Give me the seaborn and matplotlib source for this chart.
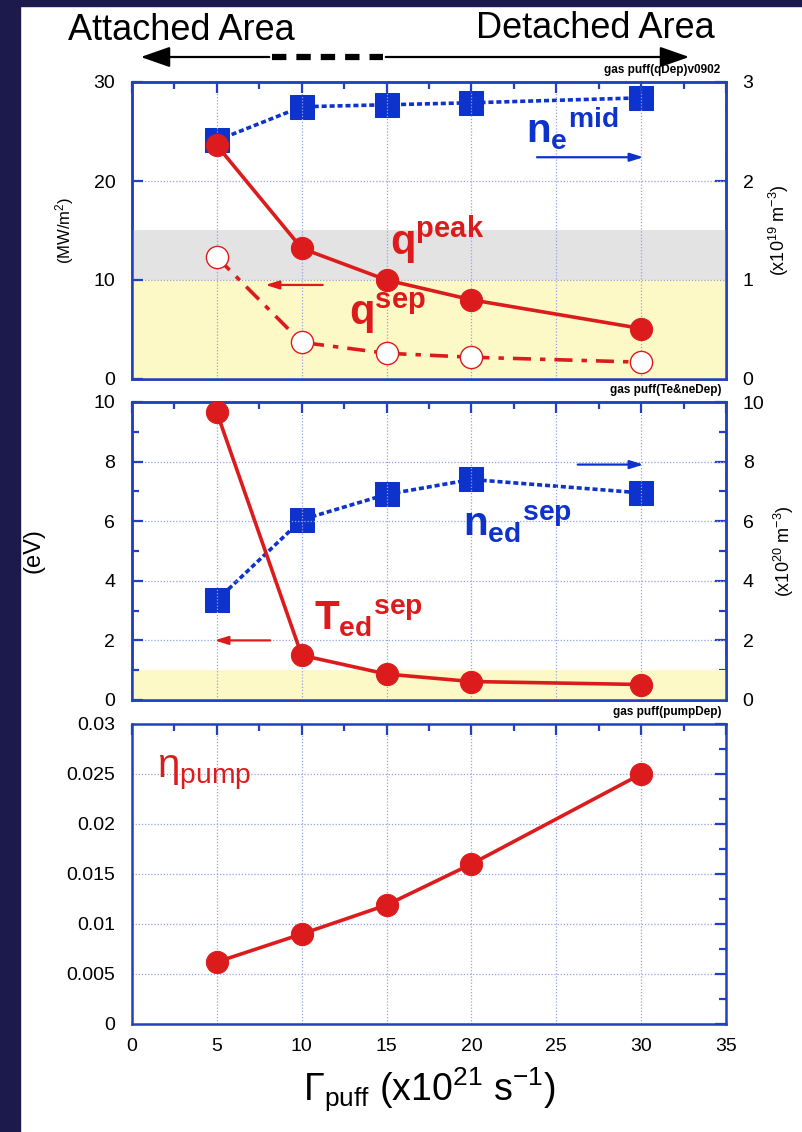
"""
Divertor gas puff scan: heat flux, separatrix conditions and pumping efficiency.
"""
import numpy as np
import matplotlib
matplotlib.use("Agg")
import matplotlib.pyplot as plt
import seaborn as sns
from matplotlib.patches import Rectangle, FancyArrowPatch
from matplotlib.lines import Line2D
from matplotlib.ticker import MultipleLocator

# data
gas_puff = [5, 10, 15, 20, 30]
q_peak = [23.6, 13.2, 10.0, 8.0, 5.1]
q_sep = [12.3, 3.7, 2.6, 2.2, 1.7]
ne_mid = [2.41, 2.75, 2.77, 2.79, 2.84]
te_sep = [9.65, 1.5, 0.87, 0.62, 0.52]
ned_sep = [3.35, 6.05, 6.9, 7.4, 6.95]
eta_pump = [0.0062, 0.009, 0.0119, 0.016, 0.025]
eta_ticks = [0, 0.005, 0.01, 0.015, 0.02, 0.025, 0.03]
eta_labels = ["0", "0.005", "0.01", "0.015", "0.02", "0.025", "0.03"]

RED = "#dc1c1c"
BLUE = "#0d33cc"
AXBLUE = "#2340c0"
NAVY = "#1c1a4c"
YELLOW = "#fdf9c6"
GRAY = "#e3e3e3"

sns.set_style("white")
plt.rcParams["font.family"] = ["Liberation Sans", "DejaVu Sans"]
plt.rcParams["text.color"] = "black"
plt.rcParams["axes.labelcolor"] = "black"
plt.rcParams["mathtext.fontset"] = "custom"
plt.rcParams["mathtext.rm"] = "Liberation Sans"
plt.rcParams["mathtext.bf"] = "Liberation Sans:bold"
plt.rcParams["mathtext.it"] = "Liberation Sans:italic"
plt.rcParams["mathtext.sf"] = "Liberation Sans"

W, H = 803, 1132
fig = plt.figure(figsize=(W / 100, H / 100), dpi=100)
fig.patch.set_facecolor("white")

# navy frame strips
fig.patches.append(Rectangle((0, 0), 20 / W, 1, transform=fig.transFigure,
                             color=NAVY, zorder=-5))
fig.patches.append(Rectangle((0, 1 - 6 / H), 1, 6 / H, transform=fig.transFigure,
                             color=NAVY, zorder=-5))


def px_axes(left, top, right, bottom):
    return fig.add_axes([left / W, 1 - bottom / H, (right - left) / W, (bottom - top) / H])


def blue_frame(ax):
    for sp in ax.spines.values():
        sp.set_color(AXBLUE)
        sp.set_linewidth(1.8)


def style_axis(ax, ymax, ymajor, yminor, right_ticks=True):
    ax.set_xlim(0, 35)
    ax.set_ylim(0, ymax)
    ax.xaxis.set_major_locator(MultipleLocator(5))
    ax.xaxis.set_minor_locator(MultipleLocator(2.5))
    ax.yaxis.set_major_locator(MultipleLocator(ymajor))
    if yminor:
        ax.yaxis.set_minor_locator(MultipleLocator(yminor))
    ax.tick_params(which="both", direction="in", colors=AXBLUE, labelcolor="black",
                   top=True, right=right_ticks, width=1.6, labelsize=14)
    ax.tick_params(which="major", length=8)
    ax.tick_params(which="minor", length=5)
    ax.tick_params(axis="y", pad=12)
    ax.tick_params(axis="x", pad=10)
    blue_frame(ax)
    ax.grid(True, which="major", color="#97a2e6", linestyle=(0, (1, 1.5)), linewidth=0.9)
    ax.set_xlabel("")
    ax.set_ylabel("")


def style_twin(tw, ymax, ymajor, yminor, label, xpos):
    tw.set_ylim(0, ymax)
    tw.yaxis.set_major_locator(MultipleLocator(ymajor))
    if yminor:
        tw.yaxis.set_minor_locator(MultipleLocator(yminor))
    tw.tick_params(which="both", direction="in", colors=AXBLUE, labelcolor="black",
                   width=1.6, labelsize=14, pad=12)
    tw.tick_params(which="major", length=8)
    tw.tick_params(which="minor", length=5)
    tw.set_ylabel(label, fontsize=13)
    tw.yaxis.set_label_coords(xpos, 0.5)
    blue_frame(tw)


ax1 = px_axes(132, 82, 726, 379)
ax2 = px_axes(132, 402, 726, 700)
ax3 = px_axes(132, 724, 726, 1024)

arrow_style = "-|>,head_length=0.8,head_width=0.25"

# ---------- panel 1 ----------
ax1.axhspan(10, 15, color=GRAY, zorder=0, lw=0)
ax1.axhspan(0, 10, color=YELLOW, zorder=0, lw=0)
sns.lineplot(x=gas_puff, y=q_peak, ax=ax1, color=RED, lw=2.6, marker="o",
             markersize=16, markerfacecolor=RED, markeredgecolor=RED, zorder=5)
sns.lineplot(x=gas_puff, y=q_sep, ax=ax1, color=RED, lw=2.6, linestyle=(0, (5, 2.5, 1.5, 2.5)),
             marker="o", markersize=16, markerfacecolor="white", markeredgecolor=RED,
             markeredgewidth=1.0, zorder=5)
style_axis(ax1, 30, 10, None, right_ticks=False)
ax1.tick_params(labelbottom=False)
ax1.set_ylabel("(MW/m$^2$)", fontsize=12)
ax1.yaxis.set_label_coords(-0.094, 0.5)

t1 = ax1.twinx()
sns.lineplot(x=gas_puff, y=ne_mid, ax=t1, color=BLUE, lw=2.6, linestyle=(0, (1.4, 0.8)),
             marker="s", markersize=17, markerfacecolor=BLUE, markeredgecolor=BLUE, zorder=3)
style_twin(t1, 3, 1, None, "(x10$^{19}$ m$^{-3}$)", 1.069)
ax1.set_zorder(t1.get_zorder() + 1)
ax1.patch.set_visible(False)

ax1.text(15.2, 14.0, r"$\mathbf{q}^{\mathbf{peak}}$", color=RED, fontsize=30, va="center")
ax1.text(12.8, 6.6, r"$\mathbf{q}^{\mathbf{sep}}$", color=RED, fontsize=30, va="center")
ax1.text(23.2, 25.4, r"$\mathbf{n_e}^{\mathbf{mid}}$", color=BLUE, fontsize=29, va="center")
ax1.annotate("", xy=(30.3, 22.4), xytext=(23.7, 22.4),
             arrowprops=dict(arrowstyle=arrow_style, color=BLUE, lw=1.6))
ax1.annotate("", xy=(7.7, 9.5), xytext=(11.4, 9.5),
             arrowprops=dict(arrowstyle=arrow_style, color=RED, lw=1.6))

# ---------- panel 2 ----------
ax2.axhspan(0, 1, color=YELLOW, zorder=0, lw=0)
sns.lineplot(x=gas_puff, y=te_sep, ax=ax2, color=RED, lw=2.6, marker="o",
             markersize=16, markerfacecolor=RED, markeredgecolor=RED, zorder=5)
style_axis(ax2, 10, 2, 1, right_ticks=False)
ax2.tick_params(labelbottom=False)
ax2.set_ylabel("(eV)", fontsize=17)
ax2.yaxis.set_label_coords(-0.148, 0.5)

t2 = ax2.twinx()
sns.lineplot(x=gas_puff, y=ned_sep, ax=t2, color=BLUE, lw=2.6, linestyle=(0, (1.4, 0.8)),
             marker="s", markersize=17, markerfacecolor=BLUE, markeredgecolor=BLUE, zorder=3)
style_twin(t2, 10, 2, 1, "(x10$^{20}$ m$^{-3}$)", 1.077)
ax2.set_zorder(t2.get_zorder() + 1)
ax2.patch.set_visible(False)

ax2.text(10.7, 2.75, r"$\mathbf{T_{ed}}^{\mathbf{sep}}$", color=RED, fontsize=29, va="center")
ax2.text(19.5, 5.9, r"$\mathbf{n_{ed}}^{\mathbf{sep}}$", color=BLUE, fontsize=29, va="center")
ax2.annotate("", xy=(30.3, 7.9), xytext=(26.1, 7.9),
             arrowprops=dict(arrowstyle=arrow_style, color=BLUE, lw=1.6))
ax2.annotate("", xy=(4.7, 2.0), xytext=(8.3, 2.0),
             arrowprops=dict(arrowstyle=arrow_style, color=RED, lw=1.6))

# ---------- panel 3 ----------
sns.lineplot(x=gas_puff, y=eta_pump, ax=ax3, color=RED, lw=2.6, marker="o",
             markersize=16, markerfacecolor=RED, markeredgecolor=RED, zorder=5)
style_axis(ax3, 0.03, 0.005, 0.0025, right_ticks=True)
ax3.set_yticks(eta_ticks)
ax3.set_yticklabels(eta_labels)
ax3.text(1.5, 0.0252, r"η$_{\mathrm{pump}}$", color=RED, fontsize=29, va="center")
ax3.set_xlabel(r"Γ$_{\mathrm{puff}}$ (x10$^{21}$ s$^{-1}$)", fontsize=27, labelpad=8)

# small run tags
fig.text(720 / W, 1 - 70 / H, "gas puff(qDep)v0902", fontsize=8.5, fontweight="bold",
         ha="right", va="center")
fig.text(722 / W, 1 - 390 / H, "gas puff(Te&neDep)", fontsize=8.5, fontweight="bold",
         ha="right", va="center")
fig.text(722 / W, 1 - 712 / H, "gas puff(pumpDep)", fontsize=8.5, fontweight="bold",
         ha="right", va="center")

# attached / detached header
fig.text(68 / W, 1 - 31 / H, "Attached Area", fontsize=26, ha="left", va="center")
fig.text(715 / W, 1 - 29 / H, "Detached Area", fontsize=26, ha="right", va="center")
ya = 1 - 57 / H
fig.add_artist(FancyArrowPatch((272 / W, ya), (138 / W, ya), transform=fig.transFigure,
                               arrowstyle="-|>,head_length=1.0,head_width=0.35",
                               mutation_scale=18, color="black", lw=1.6))
fig.add_artist(FancyArrowPatch((383 / W, ya), (692 / W, ya), transform=fig.transFigure,
                               arrowstyle="-|>,head_length=1.0,head_width=0.35",
                               mutation_scale=18, color="black", lw=1.6))
fig.add_artist(Line2D([272 / W, 383 / W], [ya, ya], transform=fig.transFigure,
                      color="black", lw=4.5, linestyle=(0, (2.3, 1.6))))

fig.savefig("out.png", dpi=100)
